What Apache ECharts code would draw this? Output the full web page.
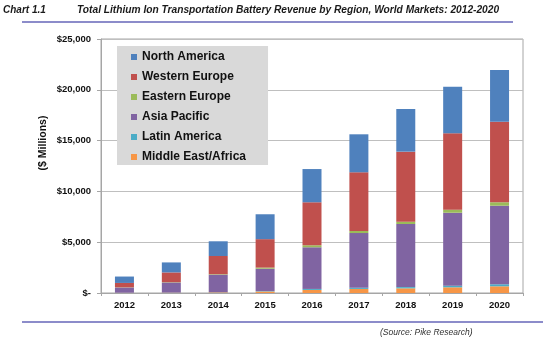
<!DOCTYPE html>
<html>
<head>
<meta charset="utf-8">
<script src="https://cdn.jsdelivr.net/npm/echarts@6/dist/echarts.min.js"></script>
<style>
  html, body { margin: 0; padding: 0; background: #fff; }
  #chart { width: 550px; height: 339px; }
</style>
</head>
<body>
<div id="chart"></div>
<script>
// Revenue by region, $ millions
const years = ['2012', '2013', '2014', '2015', '2016', '2017', '2018', '2019', '2020'];
const middleEastAfrica = [20, 30, 60, 150, 300, 400, 460, 560, 660];
const latinAmerica     = [10, 15, 20, 40, 100, 120, 120, 160, 200];
const asiaPacific      = [510, 990, 1720, 2200, 4100, 5380, 6210, 7180, 7730];
const easternEurope    = [20, 30, 50, 110, 200, 200, 230, 300, 340];
const westernEurope    = [430, 960, 1790, 2800, 4230, 5780, 6890, 7520, 7930];
const northAmerica     = [630, 985, 1450, 2450, 3270, 3740, 4200, 4580, 5090];
const yTicks = [0, 5000, 10000, 15000, 20000, 25000];

const FONT = '"Liberation Sans", Arial, sans-serif';

const regions = [
  { name: 'Middle East/Africa', data: middleEastAfrica, color: '#F79646' },
  { name: 'Latin America', data: latinAmerica, color: '#4BACC6' },
  { name: 'Asia Pacific', data: asiaPacific, color: '#8064A2' },
  { name: 'Eastern Europe', data: easternEurope, color: '#9BBB59' },
  { name: 'Western Europe', data: westernEurope, color: '#C0504D' },
  { name: 'North America', data: northAmerica, color: '#4F81BD' }
];

function money(v) {
  if (v === 0) return '$-';
  return '$' + v.toLocaleString('en-US');
}

const chart = echarts.init(document.getElementById('chart'), null, { renderer: 'canvas' });

chart.setOption({
  animation: false,
  backgroundColor: '#fff',
  title: [
    {
      text: 'Chart 1.1',
      left: 3, top: 5, padding: 0,
      textStyle: { fontFamily: FONT, fontSize: 10, fontWeight: 'bold', fontStyle: 'italic', color: '#1a1a1a' }
    },
    {
      text: 'Total Lithium Ion Transportation Battery Revenue by Region, World Markets: 2012-2020',
      left: 77, top: 5, padding: 0,
      textStyle: { fontFamily: FONT, fontSize: 10.2, fontWeight: 'bold', fontStyle: 'italic', color: '#1a1a1a' }
    },
    {
      text: '(Source: Pike Research)',
      left: 380, top: 328, padding: 0,
      textStyle: { fontFamily: FONT, fontSize: 8.5, fontWeight: 'normal', fontStyle: 'italic', color: '#333' }
    }
  ],
  graphic: [
    { type: 'line', shape: { x1: 22, y1: 22, x2: 513, y2: 22 }, style: { stroke: '#6666b8', lineWidth: 1.5 } },
    { type: 'line', shape: { x1: 22, y1: 322, x2: 543, y2: 322 }, style: { stroke: '#6666b8', lineWidth: 1.5 } },
    {
      type: 'text', x: 43, y: 143, rotation: Math.PI / 2,
      style: { text: '($ Millions)', font: 'bold 10.5px ' + FONT, fill: '#111', align: 'center', verticalAlign: 'middle' }
    }
  ],
  legend: {
    orient: 'vertical',
    left: 117, top: 46,
    data: ['North America', 'Western Europe', 'Eastern Europe', 'Asia Pacific', 'Latin America', 'Middle East/Africa'],
    icon: 'rect',
    itemWidth: 6, itemHeight: 6,
    itemGap: 6,
    padding: [4, 22, 1, 14],
    backgroundColor: '#d9d9d9',
    textStyle: { fontFamily: FONT, fontSize: 12, fontWeight: 'bold', color: '#111', lineHeight: 14 },
    selectedMode: false
  },
  grid: {
    left: 101, right: 27, top: 39, bottom: 46,
    show: true, borderColor: '#a6a6a6', borderWidth: 1, backgroundColor: 'transparent'
  },
  xAxis: {
    type: 'category',
    data: years,
    boundaryGap: true,
    axisLine: { lineStyle: { color: '#a6a6a6' } },
    axisTick: { show: true, length: 3, lineStyle: { color: '#a6a6a6' } },
    axisLabel: { fontFamily: FONT, fontSize: 9.5, fontWeight: 'bold', color: '#111', margin: 7 }
  },
  yAxis: {
    type: 'value',
    min: 0, max: 25000, interval: 5000,
    axisLine: { show: true, lineStyle: { color: '#a6a6a6' } },
    axisTick: { show: true, length: 4, lineStyle: { color: '#a6a6a6' } },
    splitLine: { lineStyle: { color: '#bfbfbf' } },
    axisLabel: {
      fontFamily: FONT, fontSize: 9.5, fontWeight: 'bold', color: '#111', margin: 10,
      formatter: v => yTicks.includes(v) ? money(v) : ''
    }
  },
  series: regions.map(r => ({
    name: r.name,
    type: 'bar',
    stack: 'total',
    data: r.data,
    barWidth: 19,
    itemStyle: { color: r.color },
    emphasis: { disabled: true }
  }))
});
</script>
</body>
</html>
